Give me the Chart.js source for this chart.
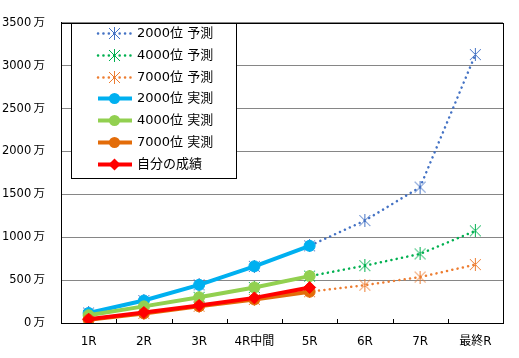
<!DOCTYPE html>
<html>
<head>
<meta charset="utf-8">
<script src="https://cdn.jsdelivr.net/npm/chart.js@4.4.1/dist/chart.umd.min.js"></script>
<style>
  html, body { margin: 0; padding: 0; background: #fff; }
  #wrap { width: 519px; height: 358px; }
</style>
</head>
<body>
<div id="wrap"><canvas id="chart" width="519" height="358"></canvas></div>
<script>
// rounds
const categories = ['1R', '2R', '3R', '4R中間', '5R', '6R', '7R', '最終R'];
// predictions (万)
const pred2000 = [117, 262, 445, 661, 900, 1194, 1585, 3130];
const pred4000 = [90, 194, 300, 414, 547, 669, 806, 1075];
const pred7000 = [38, 112, 195, 275, 365, 441, 536, 681];
// actual (万)
const act2000 = [117, 262, 445, 661, 900, null, null, null];
const act4000 = [90, 194, 300, 414, 547, null, null, null];
const act7000 = [38, 112, 195, 275, 365, null, null, null];
const mine = [45, 122, 205, 293, 414, null, null, null];
const yTicks = [0, 500, 1000, 1500, 2000, 2500, 3000, 3500];

const FONT = "'DejaVu Sans', 'Noto Sans CJK JP', sans-serif";

// asterisk marker like excel's "*"
function asterisk(color) {
  let c = document.createElement('canvas');
  c.width = 13; c.height = 13;
  let g = c.getContext('2d');
  g.strokeStyle = color;
  g.lineWidth = 1;
  g.beginPath();
  g.moveTo(1, 1); g.lineTo(12, 12);
  g.moveTo(12, 1); g.lineTo(1, 12);
  g.moveTo(6.5, 0); g.lineTo(6.5, 13);
  g.stroke();
  return c;
}

function predSet(label, data, color, order) {
  return {
    label: label, data: data, order: order,
    borderColor: color, backgroundColor: color,
    borderWidth: 2.5, borderDash: [0.1, 5.3], borderCapStyle: 'round',
    pointStyle: asterisk(color), pointRadius: 6,
    dotted: true
  };
}
function actSet(label, data, color, order, style, r) {
  return {
    label: label, data: data, order: order,
    borderColor: color, backgroundColor: color,
    borderWidth: 4, pointStyle: style || 'circle', pointRadius: r || 5.5,
    pointBorderWidth: 1
  };
}

const datasets = [
  predSet('2000位 予測', pred2000, '#4472C4', 6),
  predSet('4000位 予測', pred4000, '#00B050', 5),
  predSet('7000位 予測', pred7000, '#ED7D31', 4),
  actSet('2000位 実測', act2000, '#00B0F0', 3),
  actSet('4000位 実測', act4000, '#92D050', 2),
  actSet('7000位 実測', act7000, '#E36C09', 1),
  actSet('自分の成績', mine, '#FF0000', 0, 'rectRot', 6)
];

const frame = {
  id: 'frame',
  afterDatasetsDraw(chart) {
    let a = chart.chartArea, ctx = chart.ctx;
    ctx.save();
    ctx.strokeStyle = '#000';
    ctx.lineWidth = 1;
    ctx.strokeRect(Math.round(a.left) + 0.5, Math.round(a.top) + 0.5,
      Math.round(a.right - a.left), Math.round(a.bottom - a.top));
    // tick marks inside at category boundaries
    let n = categories.length, w = (a.right - a.left) / n;
    ctx.beginPath();
    for (let i = 1; i < n; i++) {
      let x = Math.round(a.left + i * w) + 0.5;
      ctx.moveTo(x, a.bottom);
      ctx.lineTo(x, a.bottom - 4);
    }
    ctx.stroke();
    ctx.restore();
  }
};

const boxLegend = {
  id: 'boxLegend',
  afterDraw(chart) {
    let ctx = chart.ctx;
    ctx.save();
    ctx.fillStyle = '#fff';
    ctx.fillRect(71, 23, 165, 155);
    ctx.strokeStyle = '#000';
    ctx.lineWidth = 1;
    ctx.strokeRect(71.5, 23.5, 165, 155);
    datasets.forEach((ds, i) => {
      let y = Math.round(33 + i * 21.8) + 0.5;
      ctx.save();
      ctx.strokeStyle = ds.borderColor;
      ctx.lineWidth = ds.borderWidth;
      if (ds.dotted) {
        ctx.setLineDash(ds.borderDash);
        ctx.lineCap = 'round';
      }
      ctx.beginPath();
      ctx.moveTo(98, y);
      ctx.lineTo(132, y);
      ctx.stroke();
      ctx.restore();
      if (ds.dotted) {
        ctx.drawImage(ds.pointStyle, 114 - 6, y - 6.5);
      } else {
        ctx.fillStyle = ds.borderColor;
        ctx.beginPath();
        let r = ds.pointRadius;
        if (ds.pointStyle === 'rectRot') {
          ctx.moveTo(114.5, y - r); ctx.lineTo(114.5 + r, y);
          ctx.lineTo(114.5, y + r); ctx.lineTo(114.5 - r, y);
        } else {
          ctx.arc(114.5, y, r, 0, Math.PI * 2);
        }
        ctx.closePath();
        ctx.fill();
      }
      ctx.fillStyle = '#000';
      ctx.font = '13px ' + FONT;
      ctx.textBaseline = 'middle';
      ctx.fillText(ds.label, 137, y);
    });
    ctx.restore();
  }
};

new Chart(document.getElementById('chart'), {
  type: 'line',
  data: { labels: categories, datasets: datasets },
  plugins: [frame, boxLegend],
  options: {
    responsive: false,
    animation: false,
    spanGaps: false,
    layout: { padding: { left: 0, top: 15, right: 16, bottom: 0 } },
    plugins: { legend: { display: false }, tooltip: { enabled: false } },
    elements: { line: { tension: 0 } },
    scales: {
      x: {
        offset: true,
        grid: { display: false, drawTicks: false },
        border: { color: '#000', width: 1 },
        ticks: { color: '#000', padding: 12, maxRotation: 0, font: { family: FONT, size: 12 } },
        afterFit(s) { s.height = 35; }
      },
      y: {
        min: 0, max: 3500,
        afterBuildTicks(s) { s.ticks = yTicks.map(v => ({ value: v })); },
        grid: { color: '#868686', lineWidth: 1, drawTicks: false },
        border: { color: '#000', width: 1 },
        ticks: { color: '#000', padding: 16, font: { family: FONT, size: 11.5 }, callback: v => v + '\u2009万' },
        afterFit(s) { s.width = 61; }
      }
    }
  }
});
</script>
</body>
</html>
